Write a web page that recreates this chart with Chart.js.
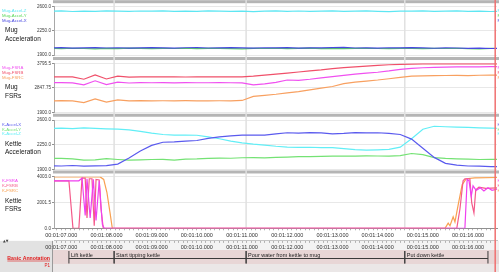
<!DOCTYPE html>
<html>
<head>
<meta charset="utf-8">
<script src="https://cdn.jsdelivr.net/npm/chart.js@4.4.1/dist/chart.umd.min.js"></script>
<style>
  html, body { margin: 0; padding: 0; background: #fff; }
  canvas { display: block; }
</style>
</head>
<body>
<canvas id="myChart" width="499" height="272"></canvas>
<script>
// sample times (seconds) for the sensor traces
const t = [66.75, 67.0, 67.25, 67.5, 67.75, 68.0, 68.25, 68.5, 68.75, 69.0,
           69.25, 69.5, 69.75, 70.0, 70.25, 70.5, 70.75, 71.0, 71.25, 71.5,
           71.75, 72.0, 72.25, 72.5, 72.75, 73.0, 73.25, 73.5, 73.75, 74.0,
           74.25, 74.5, 74.75, 75.0, 75.25, 75.5, 75.75, 76.0, 76.25, 76.5, 76.75];

// Mug acceleration
const mugAccelZ = [2532, 2536, 2528, 2534, 2530, 2537, 2533, 2529, 2535, 2532, 2538, 2531, 2534, 2529, 2536, 2532, 2530, 2534, 2526, 2533, 2537,
                   2531, 2535, 2529, 2533, 2536, 2530, 2534, 2538, 2531, 2527, 2534, 2532, 2536, 2530, 2533, 2537, 2531, 2534, 2528, 2532];
const mugAccelY = [1996, 1992, 1998, 1994, 1990, 1997, 1993, 1999, 1995, 1991, 1996, 1994, 1998, 1992, 1995, 1997, 1993, 1990, 1996, 1994, 1998,
                   1992, 1995, 1999, 1993, 1996, 1991, 1995, 1998, 1994, 1992, 1997, 1995, 1991, 1996, 1994, 1998, 1993, 1990, 1995, 1994];
const mugAccelX = [2003, 2006, 2000, 2004, 2008, 2001, 2005, 1999, 2004, 2007, 2002, 2000, 2005, 2008, 2001, 2004, 2006, 2002, 1999, 2005, 2003,
                   2007, 2000, 2004, 2002, 2006, 2009, 2001, 2004, 2000, 2005, 2003, 2007, 2002, 1998, 2004, 2001, 1996, 2000, 1994, 1998];

// Mug FSRs
const mugFsrA = [3045, 3048, 3042, 2960, 3120, 2975, 3070, 3035, 3048, 3044, 3046, 3043, 3047, 3045, 3044, 3046, 3045, 3040, 2960, 3000, 3060,
                 3150, 3140, 3180, 3230, 3280, 3330, 3380, 3420, 3450, 3500, 3560, 3600, 3625, 3640, 3650, 3655, 3660, 3662, 3668, 3670];
const mugFsrB = [3270, 3268, 3272, 3180, 3350, 3190, 3300, 3262, 3270, 3268, 3272, 3270, 3266, 3271, 3269, 3270, 3268, 3272, 3300, 3340, 3380,
                 3420, 3460, 3500, 3540, 3590, 3630, 3660, 3690, 3715, 3740, 3758, 3768, 3772, 3775, 3776, 3778, 3776, 3778, 3777, 3778];
const mugFsrC = [2345, 2350, 2342, 2280, 2420, 2295, 2380, 2340, 2350, 2346, 2348, 2344, 2350, 2347, 2345, 2349, 2346, 2360, 2520, 2560, 2600,
                 2650, 2700, 2770, 2840, 2900, 3010, 3070, 3110, 3150, 3200, 3255, 3300, 3310, 3318, 3325, 3330, 3322, 3335, 3340, 3342];

// Kettle acceleration
const kAccelX = [1952, 1948, 1955, 1945, 1950, 1953, 1975, 2060, 2160, 2240, 2285, 2290, 2300, 2310, 2340, 2360, 2375, 2385, 2388, 2385, 2405,
                 2420, 2415, 2422, 2418, 2405, 2410, 2422, 2418, 2420, 2412, 2395, 2330, 2200, 2070, 1985, 1960, 1948, 1945, 1940, 1938];
const kAccelY = [2058, 2055, 2050, 2030, 2035, 2052, 2040, 2030, 2035, 2040, 2042, 2030, 2045, 2048, 2055, 2060, 2058, 2065, 2068, 2062, 2070,
                 2075, 2080, 2082, 2085, 2088, 2090, 2088, 2092, 2090, 2088, 2095, 2125, 2110, 2068, 2055, 2050, 2045, 2040, 2042, 2040];
const kAccelZ = [2480, 2485, 2478, 2488, 2482, 2476, 2472, 2460, 2440, 2415, 2395, 2385, 2388, 2384, 2360, 2335, 2300, 2275, 2258, 2245, 2228,
                 2215, 2212, 2214, 2210, 2208, 2195, 2180, 2174, 2178, 2184, 2215, 2335, 2470, 2512, 2505, 2500, 2495, 2490, 2485, 2483];

// Kettle FSRs (own time stamps, they switch fast)
const kFsrATime = [66.75, 67.39, 67.46, 67.53, 67.57, 67.64, 67.71, 67.77, 67.84, 67.91, 67.95,
                   75.93, 75.98, 76.02, 76.07, 76.11, 76.18, 76.27, 76.35, 76.44, 76.53, 76.7];
const kFsrA = [3690, 3690, 3900, 1000, 3850, 800, 3800, 600, 3700, 300, 0,
               0, 3800, 3700, 2500, 3300, 2950, 3150, 2900, 3150, 2950, 3100];
const kFsrBTime = [66.75, 67.17, 67.26, 67.39, 67.46, 67.53, 67.57, 67.62, 67.68, 67.73, 67.77, 67.84, 67.88, 67.93,
                   75.75, 75.82, 75.89, 75.93, 76.04, 76.08, 76.13, 76.17, 76.24, 76.39, 76.7];
const kFsrB = [3690, 3690, 0, 0, 3900, 3900, 800, 3850, 3850, 200, 3800, 3750, 1500, 0,
               0, 1500, 3700, 3850, 3850, 2000, 1200, 3000, 3200, 3100, 3150];
const kFsrCTime = [66.75, 67.86, 67.94, 68.01, 68.08, 68.13, 75.49, 75.56, 75.6, 75.67, 75.71, 75.78, 75.87, 75.96, 76.15, 76.7];
const kFsrC = [3990, 3990, 3800, 2800, 1200, 0, 0, 400, 200, 900, 500, 1800, 3400, 3850, 3920, 3950];

// axes
const xMin = 66.84, xMax = 76.64;
const timeTickValues = [67, 68, 69, 70, 71, 72, 73, 74, 75, 76];
const timeTickLabels = ['00:01:07.000', '00:01:08.000', '00:01:09.000', '00:01:10.000', '00:01:11.000',
                        '00:01:12.000', '00:01:13.000', '00:01:14.000', '00:01:15.000', '00:01:16.000'];
const accTickValues = [1900, 2250, 2600];
const accTickLabels = ['1900.0', '2250.0', '2600.0'];
const mugFsrTickValues = [1900, 2847.75, 3795.5];
const mugFsrTickLabels = ['1900.0', '2847.75', '3795.5'];
const kFsrTickValues = [0, 2001.5, 4003];
const kFsrTickLabels = ['0.0', '2001.5', '4003.0'];
const panelTitles = [['Mug', 'Acceleration'], ['Mug', 'FSRs'], ['Kettle', 'Acceleration'], ['Kettle', 'FSRs']];

// annotation track
const annoLabels = ['Lift kettle', 'Start tipping kettle', 'Pour water from kettle to mug', 'Put down kettle'];
const annoStart = [67.17, 68.17, 71.09, 74.6];
const annoEnd = [68.17, 71.09, 74.6, 76.44];
const markerTimes = [68.17, 71.09, 74.6];
const cursorTime = 76.6;

const FONT = '"Liberation Sans", Arial, sans-serif';
Chart.defaults.font.family = FONT;
const panelIds = ['yMA', 'yMF', 'yKA', 'yKF'];

function pts(xs, ys) {
  return xs.map((x, i) => ({x: x, y: ys[i]}));
}

function trace(label, color, axis, xs, ys, order) {
  return {
    label: label, data: pts(xs, ys), yAxisID: axis, order: order || 0,
    borderColor: color, backgroundColor: color,
    borderWidth: 1.2, pointRadius: 0, tension: 0, fill: false
  };
}

function panelScale(min, max, vals, labels, weight, stackWeight) {
  return {
    type: 'linear', position: 'left', stack: 'panels', stackWeight: stackWeight, weight: weight,
    min: min, max: max,
    afterBuildTicks: s => { s.ticks = vals.map(v => ({value: v})); },
    afterFit: s => { s.width = 54; },
    ticks: { font: {size: 4.6}, color: '#3a3a3a', padding: 1, callback: (v, i) => labels[i] },
    grid: { color: '#e8e8e8', tickLength: 2, tickColor: '#909090' },
    border: { color: '#a8a8a8' }
  };
}

function gapScale(weight, stackWeight) {
  return { type: 'linear', position: 'left', stack: 'panels', stackWeight: stackWeight, weight: weight,
           display: false, min: 0, max: 1 };
}

function timeScale(weight, borderColor, pad) {
  return {
    type: 'linear', position: 'bottom', weight: weight, min: xMin, max: xMax,
    afterBuildTicks: s => {
      const ticks = [];
      for (let k = Math.ceil(xMin * 10); k <= Math.floor(xMax * 10); k++) ticks.push({value: k / 10});
      s.ticks = ticks;
    },
    ticks: {
      autoSkip: false, maxRotation: 0, minRotation: 0, font: {size: 5.5}, color: '#333', padding: pad,
      callback: v => {
        const i = timeTickValues.indexOf(Math.round(v * 10) / 10);
        return i < 0 ? '' : timeTickLabels[i];
      }
    },
    grid: { drawOnChartArea: false, tickLength: 2, tickColor: '#a0a0a0', tickWidth: 0.8 },
    border: { color: borderColor }
  };
}

const decor = {
  id: 'decor',
  beforeDraw(chart) {
    const ctx = chart.ctx, x2 = chart.scales.x2;
    ctx.save();
    ctx.fillStyle = '#f3f3f3';
    ctx.fillRect(0, x2.top, 499, x2.bottom - x2.top);
    ctx.fillStyle = '#e8d6d6';
    ctx.fillRect(0, x2.bottom - 1.5, 499, 14);
    ctx.fillStyle = '#ebe7e7';
    ctx.fillRect(0, x2.bottom + 12.5, 499, 30);
    ctx.fillStyle = '#e2e2e2';
    ctx.fillRect(0, x2.top, 52, 40);
    ctx.strokeStyle = '#9a9a9a';
    ctx.lineWidth = 1;
    ctx.beginPath();
    ctx.moveTo(52.5, x2.top); ctx.lineTo(52.5, 272);
    ctx.stroke();
    panelIds.forEach(id => {
      const s = chart.scales[id];
      ctx.fillStyle = '#b5b5b5';
      ctx.fillRect(53, s.top - 6.3, 446, 3);
    });
    ctx.restore();
  },
  beforeDatasetsDraw(chart) {
    const ctx = chart.ctx, xs = chart.scales.x;
    ctx.save();
    ctx.strokeStyle = '#e0e0e0';
    ctx.lineWidth = 1.5;
    markerTimes.forEach(m => {
      const px = xs.getPixelForValue(m);
      ctx.beginPath();
      ctx.moveTo(px, 0); ctx.lineTo(px, chart.chartArea.bottom);
      ctx.stroke();
    });
    ctx.restore();
  },
  afterDraw(chart) {
    const ctx = chart.ctx, xs = chart.scales.x, x2 = chart.scales.x2;
    ctx.save();
    // series names and panel titles
    ctx.textBaseline = 'middle';
    ctx.textAlign = 'left';
    panelIds.forEach((id, p) => {
      const top = chart.scales[id].top;
      let k = 0;
      chart.data.datasets.forEach(ds => {
        if (ds.yAxisID !== id) return;
        ctx.font = '4.3px ' + FONT;
        ctx.fillStyle = ds.borderColor;
        ctx.fillText(ds.label, 2, top + 4.5 + 4.8 * k);
        ctx.fillText(ds.label, chart.chartArea.right + 0.5, top + 4.5 + 4.8 * k);
        k++;
      });
      ctx.font = '6.5px ' + FONT;
      ctx.fillStyle = '#151515';
      ctx.fillText(panelTitles[p][0], 5, top + 24);
      ctx.fillText(panelTitles[p][1], 5, top + 32.5);
    });

    // annotation brackets
    const y0 = x2.bottom - 0.5, y1 = y0 + 12.5, ym = y0 + 7.5;
    ctx.strokeStyle = '#3a3a3a';
    ctx.lineWidth = 1;
    ctx.font = '5.5px ' + FONT;
    ctx.fillStyle = '#222';
    ctx.textBaseline = 'alphabetic';
    annoLabels.forEach((lab, i) => {
      const a = xs.getPixelForValue(annoStart[i]), b = xs.getPixelForValue(annoEnd[i]);
      ctx.beginPath();
      ctx.moveTo(a, y0); ctx.lineTo(a, y1);
      ctx.moveTo(b, y0); ctx.lineTo(b, y1);
      ctx.moveTo(a, ym); ctx.lineTo(b, ym);
      ctx.stroke();
      ctx.fillText(lab, a + 2, ym - 1.2);
    });

    // track title
    ctx.textAlign = 'right';
    ctx.fillStyle = '#e01818';
    ctx.font = 'bold 5.2px ' + FONT;
    const title = 'Basic Annotation';
    ctx.fillText(title, 50, ym + 1.5);
    const w = ctx.measureText(title).width;
    ctx.strokeStyle = '#e01818';
    ctx.lineWidth = 0.6;
    ctx.beginPath();
    ctx.moveTo(50 - w, ym + 2.5); ctx.lineTo(50, ym + 2.5);
    ctx.stroke();
    ctx.font = '4.5px ' + FONT;
    ctx.fillText('P1', 50, ym + 8);
    ctx.textAlign = 'left';
    ctx.fillStyle = '#444';
    ctx.font = '3.5px "DejaVu Sans"';
    ctx.fillText('\u25B2\u25BC', 3, x2.top + 1);

    // play cursor
    const cx = xs.getPixelForValue(cursorTime);
    ctx.strokeStyle = '#f07070';
    ctx.lineWidth = 1.5;
    ctx.beginPath();
    ctx.moveTo(cx, 0); ctx.lineTo(cx, 272);
    ctx.stroke();
    ctx.restore();
  }
};

new Chart(document.getElementById('myChart').getContext('2d'), {
  type: 'line',
  data: {
    datasets: [
      trace('Mug-Accel-Z', '#5ee6f2', 'yMA', t, mugAccelZ),
      trace('Mug-Accel-Y', '#58d858', 'yMA', t, mugAccelY, 1),
      trace('Mug-Accel-X', '#4848e0', 'yMA', t, mugAccelX, -1),
      trace('Mug-FSRA', '#f050f0', 'yMF', t, mugFsrA),
      trace('Mug-FSRB', '#f0506a', 'yMF', t, mugFsrB),
      trace('Mug-FSRC', '#f8a060', 'yMF', t, mugFsrC),
      trace('K-Accel-X', '#5a5aee', 'yKA', t, kAccelX),
      trace('K-Accel-Y', '#74e274', 'yKA', t, kAccelY),
      trace('K-Accel-Z', '#62eef6', 'yKA', t, kAccelZ),
      trace('K-FSRA', '#f040f0', 'yKF', kFsrATime, kFsrA),
      trace('K-FSRB', '#f45a8a', 'yKF', kFsrBTime, kFsrB),
      trace('K-FSRC', '#f8a050', 'yKF', kFsrCTime, kFsrC)
    ]
  },
  plugins: [decor],
  options: {
    responsive: false,
    animation: false,
    events: [],
    layout: { padding: { top: 6.5, right: 2, bottom: 20.5, left: 0 } },
    plugins: { legend: { display: false }, tooltip: { enabled: false } },
    scales: {
      x: timeScale(0, '#909090', 2),
      x2: timeScale(1, '#c4c4c4', 1),
      yMA: panelScale(1900, 2600, accTickValues, accTickLabels, 7, 48.5),
      g1: gapScale(6, 8.3),
      yMF: panelScale(1900, 3795.5, mugFsrTickValues, mugFsrTickLabels, 5, 49),
      g2: gapScale(4, 7.7),
      yKA: panelScale(1900, 2600, accTickValues, accTickLabels, 3, 49.3),
      g3: gapScale(2, 7.4),
      yKF: panelScale(0, 4003, kFsrTickValues, kFsrTickLabels, 1, 51.5)
    }
  }
});
</script>
</body>
</html>
